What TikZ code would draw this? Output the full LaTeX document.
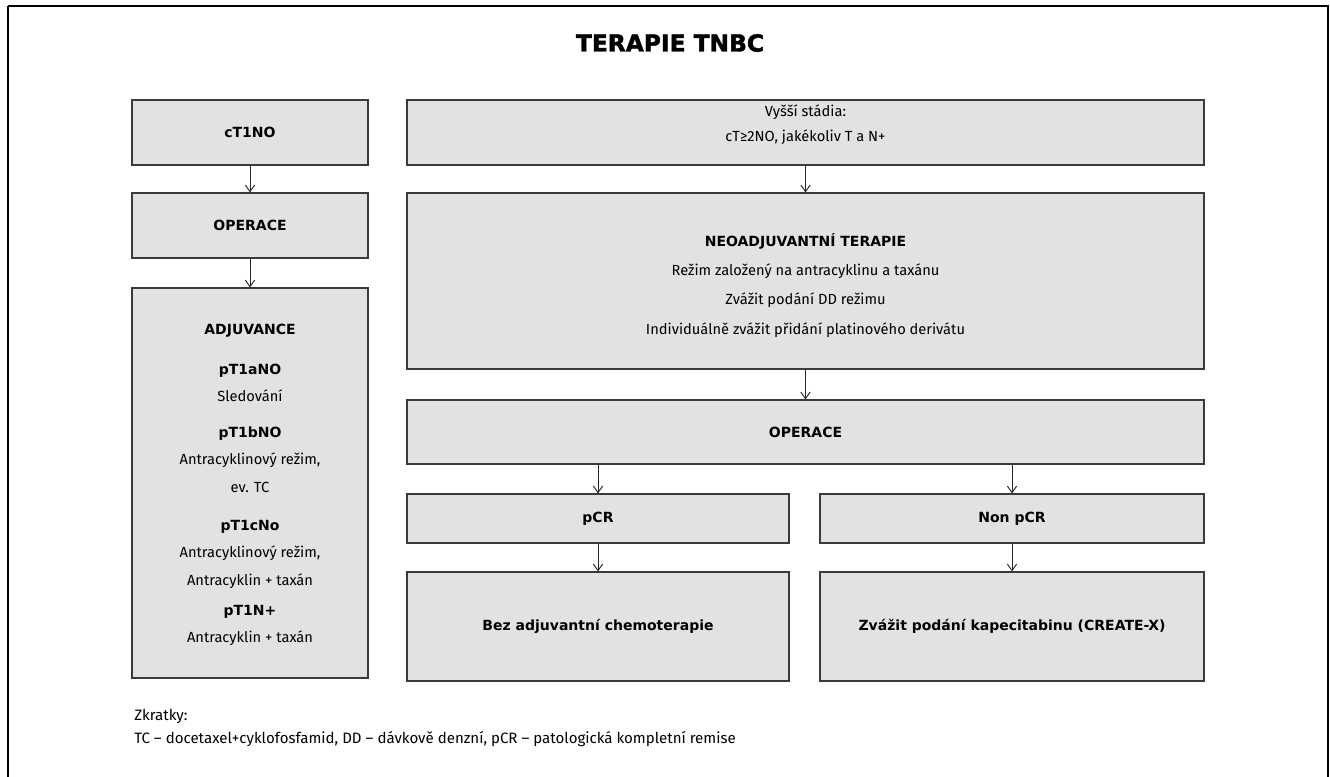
\documentclass[tikz,border=0pt]{standalone}
\usepackage{fontspec}
\setmainfont{Fira Sans}
\newfontfamily\titlefont[FakeBold=2]{DejaVu Sans}
\newfontfamily\capsfont{DejaVu Sans}
\usetikzlibrary{arrows.meta}
\definecolor{boxfill}{HTML}{E2E2E2}
\definecolor{boxline}{HTML}{3A3A3A}
\newcommand{\hdr}[1]{{\capsfont\bfseries\fontsize{10.5pt}{20.6pt}\selectfont #1}}
\begin{document}
\begin{tikzpicture}[x=0.75pt,y=-0.75pt,
  box/.style={draw=boxline, fill=boxfill, line width=0.8pt, align=center, inner sep=0pt,
    font=\fontsize{11pt}{20.6pt}\selectfont},
  lab/.style={font=\capsfont\bfseries\fontsize{10.5pt}{13pt}\selectfont},
  arr/.style={draw=black!85, line width=0.7pt, -{Straight Barb[length=5pt,width=7pt]}},
  note/.style={anchor=west, inner sep=0pt, font=\fontsize{11.3pt}{13pt}\selectfont}
]
\useasboundingbox (0,0) rectangle (1330,776);
\draw[line width=1.6pt] (8,6) -- (1328,6) -- (1328,790) (8,6) -- (8,790);

\node (title) at (670,43) {\titlefont\bfseries\fontsize{17.5pt}{20pt}\selectfont TERAPIE TNBC};

% left column
\node[box, lab, minimum width=177pt, minimum height=48.75pt] (c1) at (250,132.5) {cT1NO};
\node[box, lab, minimum width=177pt, minimum height=48.75pt] (op1) at (250,225.5) {OPERACE};
\node[box, minimum width=177pt, minimum height=292.5pt] (adj) at (250,483) {%
  \rule{0pt}{11pt}\hdr{ADJUVANCE}\\[9pt]
  \hdr{pT1aNO}\\
  Sledování\\[6pt]
  \hdr{pT1bNO}\\
  Antracyklinový režim,\\
  ev. TC\\[8pt]
  \hdr{pT1cNo}\\
  Antracyklinový režim,\\
  Antracyklin + taxán\\[2pt]
  \hdr{pT1N+}\\
  Antracyklin + taxán};

% right column
\node[box, minimum width=597.75pt, minimum height=48.75pt, font=\fontsize{11pt}{19pt}\selectfont] (vys) at (805.5,132.5)
  {Vyšší stádia:\\cT≥2NO, jakékoliv T a N+\rule[-14pt]{0pt}{0pt}};
\node[box, minimum width=597.75pt, minimum height=132pt, font=\fontsize{11pt}{22pt}\selectfont] (neo) at (805.5,281) {%
  \rule{0pt}{16pt}\hdr{NEOADJUVANTNÍ TERAPIE}\\
  Režim založený na antracyklinu a taxánu\\
  Zvážit podání DD režimu\\
  Individuálně zvážit přidání platinového derivátu};
\node[box, lab, minimum width=597.75pt, minimum height=48pt] (op2) at (805.5,432) {OPERACE};
\node[box, lab, minimum width=286.5pt, minimum height=36.75pt] (pcr) at (598,518.5) {pCR};
\node[box, lab, minimum width=288pt, minimum height=36.75pt] (non) at (1012,518.5) {Non pCR};
\node[box, lab, minimum width=286.5pt, minimum height=81.75pt] (bez) at (598,626.5) {Bez adjuvantní chemoterapie};
\node[box, lab, minimum width=288pt, minimum height=81.75pt] (zva) at (1012,626.5) {Zvážit podání kapecitabinu (CREATE-X)};

% arrows
\draw[arr] (c1) -- (op1);
\draw[arr] (op1) -- (adj);
\draw[arr] (vys) -- (neo);
\draw[arr] (neo) -- (op2);
\draw[arr] (op2.south -| pcr.north) -- (pcr);
\draw[arr] (op2.south -| non.north) -- (non);
\draw[arr] (pcr) -- (bez);
\draw[arr] (non) -- (zva);

% footnote
\node[note] (zk) at (134,716) {Zkratky:};
\node[note] (tc) at (134,739) {TC – docetaxel+cyklofosfamid, DD – dávkově denzní, pCR – patologická kompletní remise};
\end{tikzpicture}
\end{document}
